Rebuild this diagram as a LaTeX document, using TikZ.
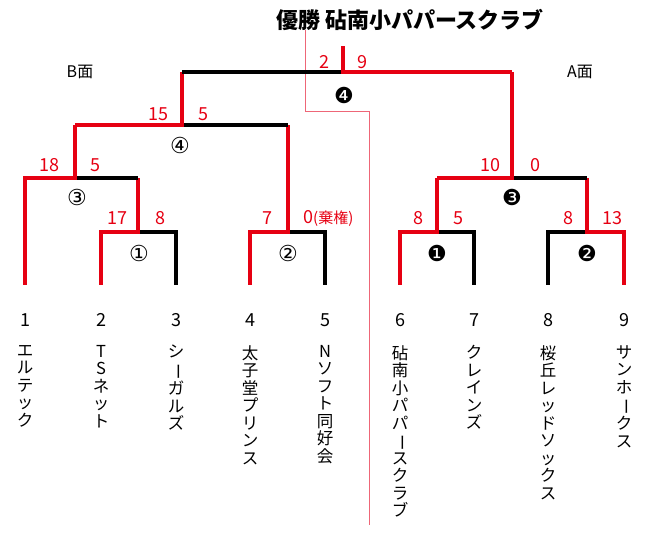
\documentclass[tikz,border=0pt]{standalone}
\usepackage{fontspec}
\usepackage{graphicx}
\usetikzlibrary{calc}
\newfontfamily\jp{Noto Sans CJK JP}
\newfontfamily\symfont{DejaVu Sans}
\definecolor{winred}{HTML}{E60012}
\definecolor{divred}{HTML}{EE6677}
\newcommand\chouon{\rotatebox[origin=c]{-90}{ー}}
\tikzset{
  win/.style={winred, line width=3.2pt},
  lose/.style={black, line width=3.2pt},
  score/.style={text=winred, font=\jp\fontsize{18}{18}\selectfont, inner sep=0pt},
  matchno/.style={font=\symfont\fontsize{22}{22}\selectfont, inner sep=0pt},
  seed/.style={font=\jp\fontsize{18}{18}\selectfont, inner sep=0pt},
  teamname/.style={anchor=north, align=center, font=\jp\fontsize{16.5}{17.5}\selectfont, inner sep=0pt},
}
\begin{document}
\begin{tikzpicture}[x=1pt, y=-1pt]
\useasboundingbox (0,0) rectangle (650,534);
% title and sides
\node[font=\jp\bfseries\fontsize{22}{22}\selectfont] (title) at (410,20) {優勝\ 砧南小パパースクラブ};
\node[font=\jp\fontsize{16}{16}\selectfont] (sideB) at (80,72) {B面};
\node[font=\jp\fontsize{16}{16}\selectfont] (sideA) at (580,72) {A面};
% team tops
\foreach \i/\x in {1/25,2/101,3/176,4/250,5/325,6/400,7/474,8/548,9/624}
  \coordinate (t\i) at (\x,285);
% side divider
\draw[divred, line width=0.9pt] (305,30) -- (305,111) -- (369,111) -- (369,525);
% match 1 and 2
\draw[lose] (t3) |- (138,232);
\draw[win] (t2) |- (138,232) -- (138,178);
\draw[lose] (t5) |- (288,232);
\draw[win] (t4) |- (288,232) -- (288,125);
% match 3
\draw[lose] (138,178) -- (75,178);
\draw[win] (t1) |- (75,178) -- (75,125);
% match 4
\draw[lose] (288,125) -- (182,125);
\draw[win] (75,125) -- (182,125) -- (182,72);
% A side
\draw[lose] (t7) |- (437,232);
\draw[win] (t6) |- (437,232) -- (437,178);
\draw[lose] (t8) |- (587,232);
\draw[win] (t9) |- (587,232) -- (587,178);
\draw[lose] (587,178) -- (512,178);
\draw[win] (437,178) -- (512,178) -- (512,72);
% final
\draw[lose] (182,72) -- (343,72);
\draw[win] (512,72) -- (343,72) -- (343,46);
% scores
\foreach \x/\y/\s in {324/62/2,362/62/9,158/114/15,203/114/5,49/165/18,95/165/5,
  117/218/17,160/218/8,267/218/7,490/165/10,535/165/0,418/218/8,458/218/5,568/218/8,612/218/13}
  \node[score] at (\x,\y) {\s};
\node[score, anchor=west] (forfeit) at (303,218) {0{\fontsize{15}{15}\selectfont(棄権)}};
% match numbers
\foreach \x/\y/\m in {139/253/①,288/253/②,77/197/③,180/145/④,437/253/❶,587/253/❷,512/197/❸,344/95/❹}
  \node[matchno] at (\x,\y) {\m};
% seeds and team names
\foreach \i in {1,...,9}
  \node[seed] (s\i) at ($(t\i)+(0,35)$) {\i};
\node[teamname] (n1) at (25,345) {エ\\ル\\テ\\ッ\\ク};
\node[teamname] (n2) at (101,345) {T\\S\\ネ\\ッ\\ト};
\node[teamname] (n3) at (176,345) {シ\\\chouon\\ガ\\ル\\ズ};
\node[teamname] (n4) at (250,345) {太\\子\\堂\\プ\\リ\\ン\\ス};
\node[teamname] (n5) at (325,345) {N\\ソ\\フ\\ト\\同\\好\\会};
\node[teamname] (n6) at (400,345) {砧\\南\\小\\パ\\パ\\\chouon\\ス\\ク\\ラ\\ブ};
\node[teamname] (n7) at (474,345) {ク\\レ\\イ\\ン\\ズ};
\node[teamname] (n8) at (548,345) {桜\\丘\\レ\\ッ\\ド\\ソ\\ッ\\ク\\ス};
\node[teamname] (n9) at (624,345) {サ\\ン\\ホ\\\chouon\\ク\\ス};
\end{tikzpicture}
\end{document}
